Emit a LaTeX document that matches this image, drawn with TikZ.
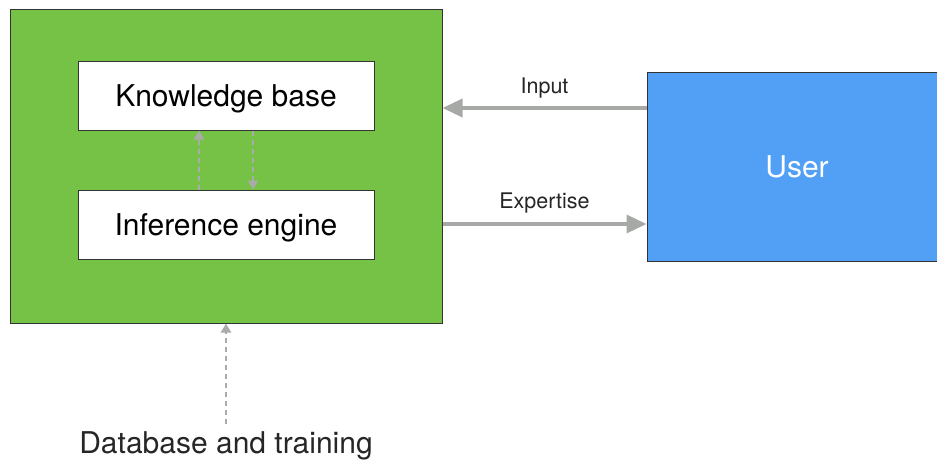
\documentclass[tikz,border=0pt]{standalone}
\usepackage{fontspec}
\setmainfont{TeX Gyre Heros}
\usetikzlibrary{arrows.meta}
\definecolor{sysgreen}{HTML}{75C246}
\definecolor{userblue}{HTML}{52A0F5}
\definecolor{edgedark}{HTML}{333333}
\definecolor{flowgray}{HTML}{A6A9A6}
\definecolor{dashgray}{HTML}{ABABAB}
\tikzset{
  box/.style={draw=edgedark, line width=1pt, rectangle, inner sep=0pt},
  bigtext/.style={font=\fontsize{30}{34}\selectfont, text depth=0pt},
  smalltext/.style={font=\fontsize{21.5}{25}\selectfont, text=black!85},
  flow/.style={draw=flowgray, line width=3.5pt, -{Triangle[length=20pt,width=18pt]}},
  dashflow/.style={draw=dashgray, line width=2.2pt, dash pattern=on 5pt off 4pt,
    -{Triangle[length=9pt,width=10pt]}}
}
\begin{document}
\begin{tikzpicture}[x=1pt,y=-1pt]
  \useasboundingbox (0,0) rectangle (937,461);
  \fill[white] (0,0) rectangle (937,461);

  % expert system block with its two parts
  \node[box, fill=sysgreen, minimum width=432pt, minimum height=314pt] (sys) at (226,166) {};
  \node[box, fill=white, minimum width=296pt, minimum height=69pt, bigtext] (kb) at (226,95.5) {Knowledge base};
  \node[box, fill=white, minimum width=296pt, minimum height=69pt, bigtext] (ie) at (226,224.5) {Inference engine};

  % user block, running off the right edge
  \node[box, fill=userblue, minimum width=300pt, minimum height=189pt, bigtext, text=white] (user) at (797,166.5) {User};

  % exchange between user and system
  \coordinate (inY) at (0,108);
  \coordinate (exY) at (0,224);
  \draw[flow] (user.west |- inY) -- (sys.east |- inY)
    node[midway, above=5pt, smalltext] (inlbl) {Input};
  \draw[flow] (sys.east |- exY) -- (user.west |- exY)
    node[midway, above=6pt, smalltext] (exlbl) {Expertise};

  % internal links between engine and knowledge base
  \coordinate (upX) at (199,0);
  \coordinate (dnX) at (253,0);
  \draw[dashflow] (ie.north -| upX) -- (kb.south -| upX);
  \draw[dashflow] (kb.south -| dnX) -- (ie.north -| dnX);

  % data source feeding the system
  \node[bigtext, text=black!85, inner sep=0pt] (db) at (226,443) {Database and training};
  \draw[dashflow, shorten <=8pt] (db.north) -- (sys.south);
\end{tikzpicture}
\end{document}
